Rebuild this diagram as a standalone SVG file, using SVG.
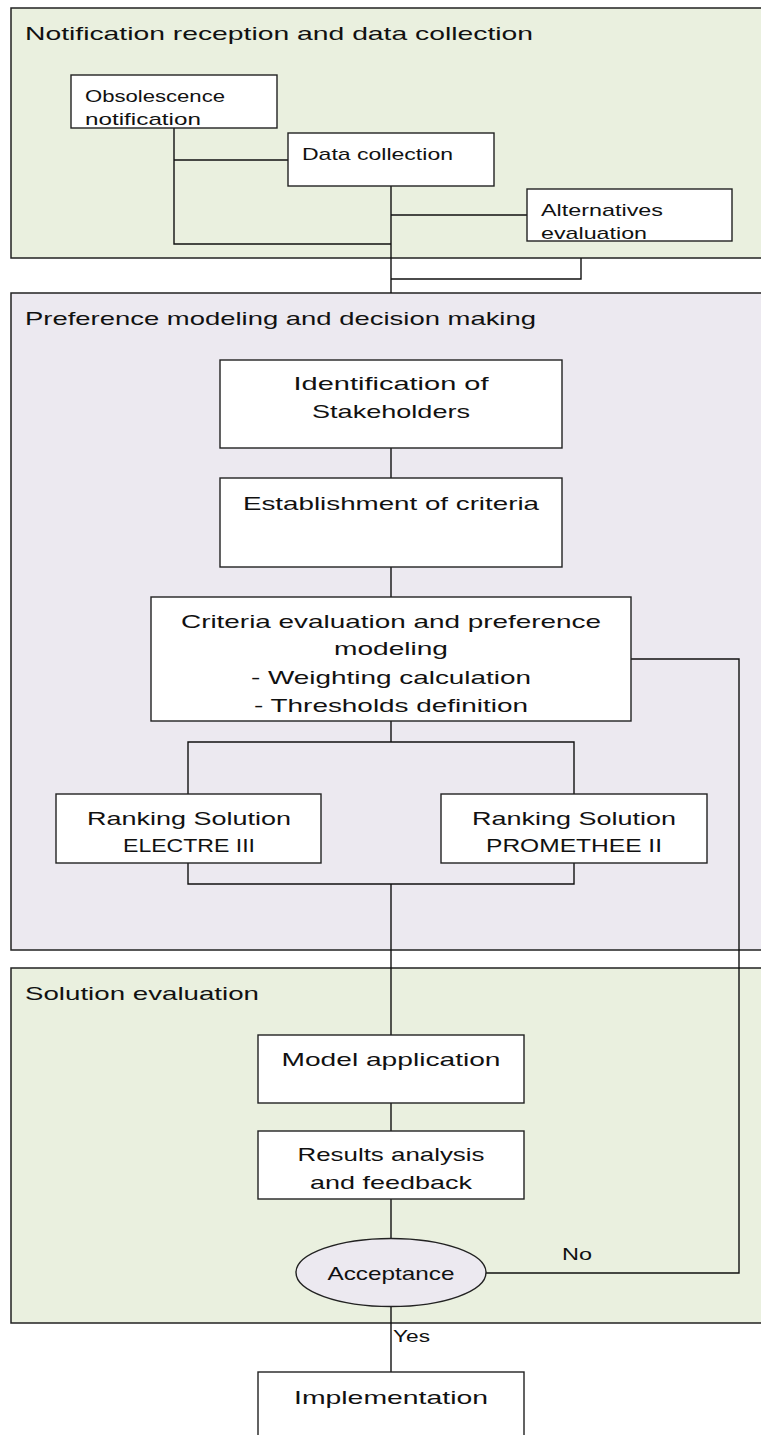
<svg xmlns="http://www.w3.org/2000/svg" width="761" height="1435" viewBox="0 0 761 1435">
  <style>
    .panel-g { fill: #eaf0df; stroke: #222; stroke-width: 1.5; }
    .panel-p { fill: #ece9f0; stroke: #222; stroke-width: 1.5; }
    .box { fill: #fff; stroke: #222; stroke-width: 1.4; }
    .oval { fill: #ece9f0; stroke: #222; stroke-width: 1.4; }
    .wire { fill: none; stroke: #111; stroke-width: 1.4; }
    text { font-family: "Liberation Sans", Arial, sans-serif; fill: #111; }
    .title { font-size: 19px; }
    .lbl { font-size: 19px; text-anchor: middle; }
    .sm { font-size: 17px; }
  </style>

  <!-- swimlane panels -->
  <g id="panel-notification">
    <rect class="panel-g" x="11" y="8" width="760" height="250"/>
    <text class="title" x="25" y="40" textLength="508" lengthAdjust="spacingAndGlyphs">Notification reception and data collection</text>
  </g>
  <g id="panel-preference">
    <rect class="panel-p" x="11" y="293" width="760" height="657"/>
    <text class="title" x="25" y="325" textLength="511" lengthAdjust="spacingAndGlyphs">Preference modeling and decision making</text>
  </g>
  <g id="panel-solution">
    <rect class="panel-g" x="11" y="968" width="760" height="355"/>
    <text class="title" x="25" y="1000" textLength="234" lengthAdjust="spacingAndGlyphs">Solution evaluation</text>
  </g>

  <!-- connectors -->
  <g id="connectors">
    <polyline class="wire" points="174,128 174,244 391,244"/>
    <line class="wire" x1="174" y1="160" x2="288" y2="160"/>
    <line class="wire" x1="391" y1="186" x2="391" y2="293"/>
    <line class="wire" x1="391" y1="215" x2="527" y2="215"/>
    <polyline class="wire" points="581,258 581,279 391,279"/>
    <line class="wire" x1="391" y1="448" x2="391" y2="478"/>
    <line class="wire" x1="391" y1="567" x2="391" y2="597"/>
    <line class="wire" x1="391" y1="721" x2="391" y2="742"/>
    <polyline class="wire" points="188,794 188,742 574,742 574,794"/>
    <polyline class="wire" points="188,863 188,884 574,884 574,863"/>
    <line class="wire" x1="391" y1="884" x2="391" y2="1035"/>
    <line class="wire" x1="391" y1="1103" x2="391" y2="1131"/>
    <line class="wire" x1="391" y1="1199" x2="391" y2="1238"/>
    <polyline class="wire" points="631,659 739,659 739,1273 485,1273"/>
    <line class="wire" x1="391" y1="1307" x2="391" y2="1372"/>
    <text class="sm" x="562" y="1260" textLength="30" lengthAdjust="spacingAndGlyphs">No</text>
    <text class="sm" x="393" y="1342" textLength="37" lengthAdjust="spacingAndGlyphs">Yes</text>
  </g>

  <!-- process steps -->
  <g id="node-obsolescence">
    <rect class="box" x="71" y="75" width="206" height="53"/>
    <text class="sm" x="85" y="102" textLength="140" lengthAdjust="spacingAndGlyphs">Obsolescence</text>
    <text class="sm" x="85" y="125" textLength="116" lengthAdjust="spacingAndGlyphs">notification</text>
  </g>
  <g id="node-data-collection">
    <rect class="box" x="288" y="133" width="206" height="53"/>
    <text class="sm" x="302" y="160" textLength="151" lengthAdjust="spacingAndGlyphs">Data collection</text>
  </g>
  <g id="node-alternatives">
    <rect class="box" x="527" y="189" width="205" height="52"/>
    <text class="sm" x="541" y="216" textLength="122" lengthAdjust="spacingAndGlyphs">Alternatives</text>
    <text class="sm" x="541" y="239" textLength="106" lengthAdjust="spacingAndGlyphs">evaluation</text>
  </g>
  <g id="node-stakeholders">
    <rect class="box" x="220" y="360" width="342" height="88"/>
    <text class="lbl" x="391" y="390" textLength="195" lengthAdjust="spacingAndGlyphs">Identification of</text>
    <text class="lbl" x="391" y="418" textLength="158" lengthAdjust="spacingAndGlyphs">Stakeholders</text>
  </g>
  <g id="node-criteria">
    <rect class="box" x="220" y="478" width="342" height="89"/>
    <text class="lbl" x="391" y="510" textLength="296" lengthAdjust="spacingAndGlyphs">Establishment of criteria</text>
  </g>
  <g id="node-evaluation">
    <rect class="box" x="151" y="597" width="480" height="124"/>
    <text class="lbl" x="391" y="628" textLength="420" lengthAdjust="spacingAndGlyphs">Criteria evaluation and preference</text>
    <text class="lbl" x="391" y="655" textLength="114" lengthAdjust="spacingAndGlyphs">modeling</text>
    <text class="lbl" x="391" y="684" textLength="280" lengthAdjust="spacingAndGlyphs">- Weighting calculation</text>
    <text class="lbl" x="391" y="712" textLength="274" lengthAdjust="spacingAndGlyphs">- Thresholds definition</text>
  </g>
  <g id="node-electre">
    <rect class="box" x="56" y="794" width="265" height="69"/>
    <text class="lbl" x="189" y="825" textLength="204" lengthAdjust="spacingAndGlyphs">Ranking Solution</text>
    <text class="lbl" x="189" y="852" textLength="132" lengthAdjust="spacingAndGlyphs">ELECTRE III</text>
  </g>
  <g id="node-promethee">
    <rect class="box" x="441" y="794" width="266" height="69"/>
    <text class="lbl" x="574" y="825" textLength="204" lengthAdjust="spacingAndGlyphs">Ranking Solution</text>
    <text class="lbl" x="574" y="852" textLength="176" lengthAdjust="spacingAndGlyphs">PROMETHEE II</text>
  </g>
  <g id="node-model">
    <rect class="box" x="258" y="1035" width="266" height="68"/>
    <text class="lbl" x="391" y="1066" textLength="219" lengthAdjust="spacingAndGlyphs">Model application</text>
  </g>
  <g id="node-results">
    <rect class="box" x="258" y="1131" width="266" height="68"/>
    <text class="lbl" x="391" y="1161" textLength="187" lengthAdjust="spacingAndGlyphs">Results analysis</text>
    <text class="lbl" x="391" y="1189" textLength="162" lengthAdjust="spacingAndGlyphs">and feedback</text>
  </g>
  <g id="node-acceptance">
    <ellipse class="oval" cx="391" cy="1272.5" rx="95" ry="34"/>
    <text class="lbl" x="391" y="1280" textLength="127" lengthAdjust="spacingAndGlyphs">Acceptance</text>
  </g>
  <g id="node-implementation">
    <rect class="box" x="258" y="1372" width="266" height="80"/>
    <text class="lbl" x="391" y="1404" textLength="194" lengthAdjust="spacingAndGlyphs">Implementation</text>
  </g>
</svg>
